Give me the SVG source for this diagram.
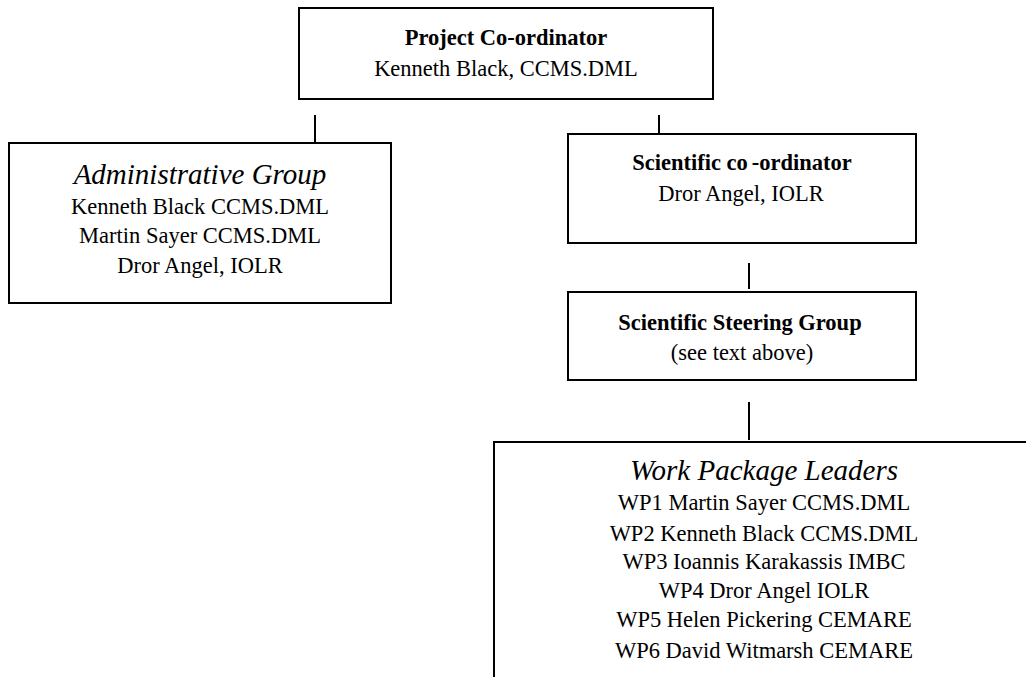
<svg xmlns="http://www.w3.org/2000/svg" width="1026" height="677" viewBox="0 0 1026 677">
<style>
.box{fill:#fff;stroke:#000;stroke-width:2}
.con{stroke:#000;stroke-width:2;fill:none}
text{font-family:"Liberation Serif","Times New Roman",serif;fill:#000;text-anchor:middle;font-size:22.5px}
.b{font-weight:bold}
.t{font-style:italic;font-size:29px}
</style>
<rect width="1026" height="677" fill="#fff"/>
<g id="connectors">
<line class="con" x1="315" y1="115" x2="315" y2="142"/>
<line class="con" x1="659" y1="115" x2="659" y2="133"/>
<line class="con" x1="749" y1="263" x2="749" y2="289"/>
<line class="con" x1="749" y1="402" x2="749" y2="440"/>
</g>
<g id="project-coordinator">
<rect class="box" x="299" y="8" width="414" height="91"/>
<text class="b" x="506" y="45">Project Co-ordinator</text>
<text x="506" y="76">Kenneth Black, CCMS.DML</text>
</g>
<g id="administrative-group">
<rect class="box" x="9" y="143" width="382" height="160"/>
<text class="t" x="200" y="184">Administrative Group</text>
<text x="200" y="214">Kenneth Black CCMS.DML</text>
<text x="200" y="243">Martin Sayer CCMS.DML</text>
<text x="200" y="273">Dror Angel, IOLR</text>
</g>
<g id="scientific-coordinator">
<rect class="box" x="568" y="134" width="348" height="109"/>
<text class="b" x="742" y="170">Scientific co<tspan dx="4">-</tspan>ordinator</text>
<text x="741" y="201">Dror Angel, IOLR</text>
</g>
<g id="scientific-steering-group">
<rect class="box" x="568" y="292" width="348" height="88"/>
<text class="b" x="740" y="330">Scientific Steering Group</text>
<text x="742" y="360">(see text above)</text>
</g>
<g id="work-package-leaders">
<rect class="box" x="494" y="442" width="560" height="260"/>
<text class="t" x="764" y="480">Work Package Leaders</text>
<text x="764" y="510">WP1 Martin Sayer CCMS.DML</text>
<text x="764" y="541">WP2 Kenneth Black CCMS.DML</text>
<text x="764" y="569">WP3 Ioannis Karakassis IMBC</text>
<text x="764" y="598">WP4 Dror Angel IOLR</text>
<text x="764" y="627">WP5 Helen Pickering CEMARE</text>
<text x="764" y="658">WP6 David Witmarsh CEMARE</text>
</g>
</svg>
